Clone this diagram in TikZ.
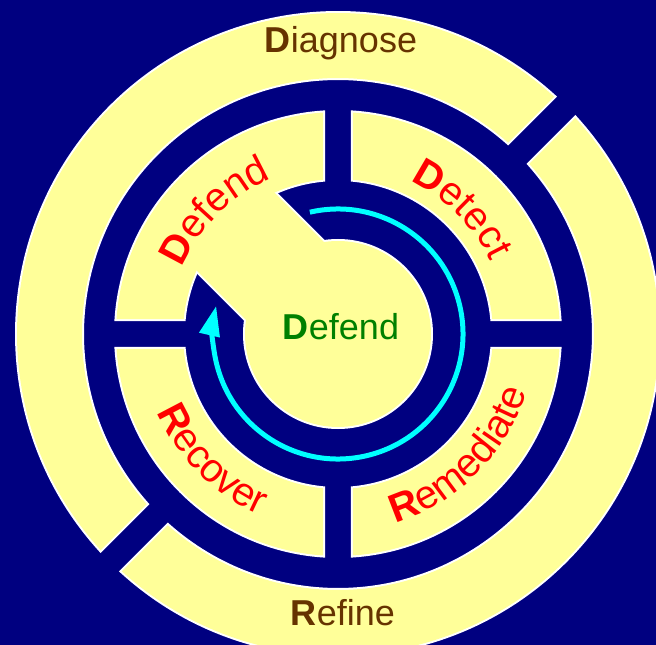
\documentclass[tikz,border=0pt]{standalone}
\usepackage{fontspec}
\setmainfont{Liberation Sans}
\usetikzlibrary{arrows.meta,decorations.text}

\definecolor{bgnavy}{RGB}{0,0,128}
\definecolor{paleyellow}{RGB}{255,255,153}
\definecolor{rootbrown}{RGB}{102,51,0}
\definecolor{coregreen}{RGB}{0,128,0}
\definecolor{loopcyan}{RGB}{0,255,255}

% annulus piece between radii #1,#2 from axis #3 to #4, 30pt gaps
\newcommand{\ringpiece}[4]{({#3+asin(15/#2)}:#2) arc[start angle={#3+asin(15/#2)},end angle={#4-asin(15/#2)},radius=#2]
  -- ({#4-asin(15/#1)}:#1) arc[start angle={#4-asin(15/#1)},end angle={#3+asin(15/#1)},radius=#1] -- cycle}
\newcommand{\stagefont}{\fontsize{40}{42}\selectfont}

\begin{document}
\begin{tikzpicture}[x=1pt,y=1pt,
  rimline/.style={draw=white,line width=4pt},
  piece/.style={fill=paleyellow},
  rootlabel/.style={font=\fontsize{36}{40}\selectfont,text=rootbrown,inner sep=0pt,anchor=base},
  stagetext/.style={decorate,decoration={text along path,text align=center,text color=red}}]
  % backdrop
  \fill[bgnavy] (-338,-311) rectangle (318,334);
  \clip (-338,-311) rectangle (318,334);

  % white rims first, yellow on top, so the keyhole merges
  \foreach \s in {0,90,180,270}
    \draw[rimline] \ringpiece{155}{222}{\s}{\s+90};
  \draw[rimline] \ringpiece{256}{321}{45}{225};
  \draw[rimline] \ringpiece{256}{321}{225}{405};
  \draw[rimline,rotate=135] (0,-55) rectangle (170,55);
  \draw[rimline] (0,0) circle (93);

  \foreach \s in {0,90,180,270}
    \fill[piece] \ringpiece{155}{222}{\s}{\s+90};
  \fill[piece] \ringpiece{256}{321}{45}{225};
  \fill[piece] \ringpiece{256}{321}{225}{405};
  \fill[piece,rotate=135] (0,-55) rectangle (170,55);
  \fill[piece] (0,0) circle (93);

  % cycle arrow
  \draw[loopcyan,line width=5pt,-{Triangle[length=30pt,width=20pt]}]
    (103:125) arc[start angle=103,end angle=-193,radius=125];

  % labels
  \node[rootlabel] (diagnose) at (3,281) {\textbf{D}iagnose};
  \node[rootlabel] (refine) at (5,-291) {\textbf{R}efine};
  \node[rootlabel,text=coregreen] (core) at (3,-6) {\textbf{D}efend};

  \path[stagetext,decoration={text={|\stagefont\bfseries|D|\stagefont\mdseries|efend}}]
    (180:169) arc[start angle=180,end angle=90,radius=169];
  \path[stagetext,decoration={text={|\stagefont\bfseries|D|\stagefont\mdseries|etect}}]
    (90:169) arc[start angle=90,end angle=0,radius=169];
  \path[stagetext,decoration={text={|\stagefont\bfseries|R|\stagefont\mdseries|emediate}}]
    (-90:197) arc[start angle=-90,end angle=0,radius=197];
  \path[stagetext,decoration={text={|\stagefont\bfseries|R|\stagefont\mdseries|ecover}}]
    (-180:197) arc[start angle=-180,end angle=-90,radius=197];
\end{tikzpicture}
\end{document}
